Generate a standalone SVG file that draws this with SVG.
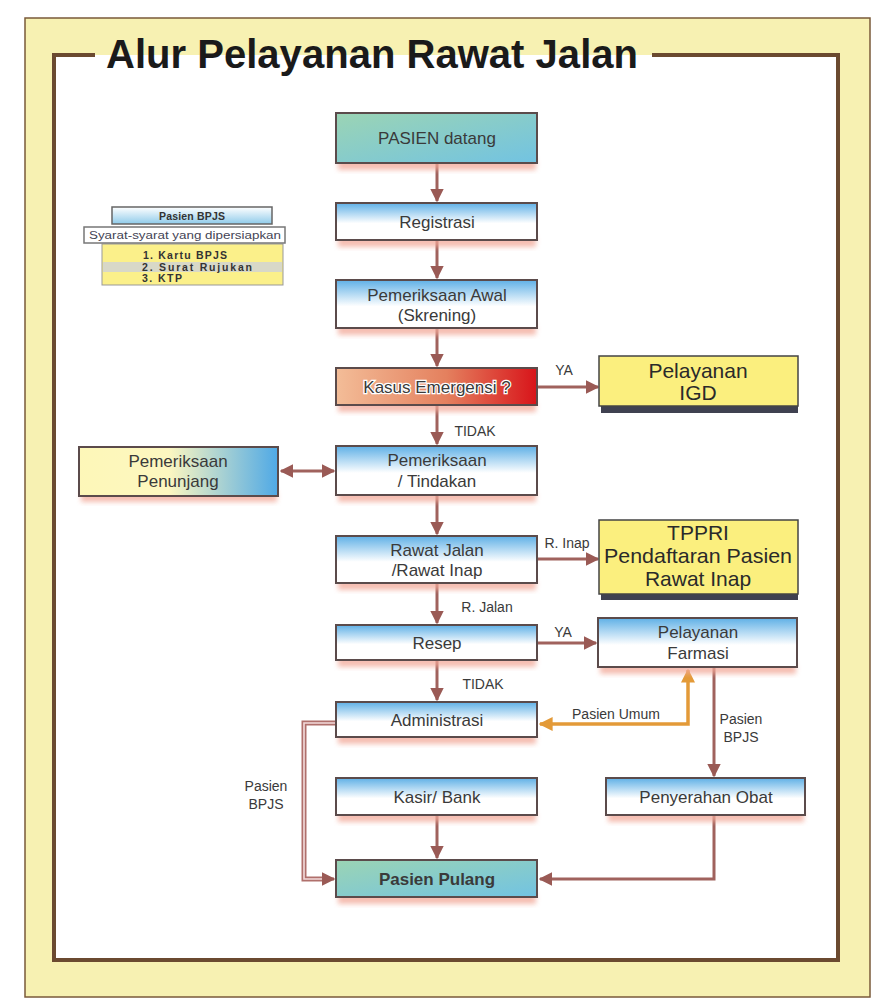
<svg xmlns="http://www.w3.org/2000/svg" width="895" height="1004" viewBox="0 0 895 1004">
<defs>
<linearGradient id="gBlue" x1="0" y1="0" x2="0" y2="1"><stop offset="0" stop-color="#5fb0e6"/><stop offset="0.55" stop-color="#ffffff"/><stop offset="1" stop-color="#ffffff"/></linearGradient>
<linearGradient id="gTeal" x1="0" y1="0" x2="1" y2="1"><stop offset="0" stop-color="#9bd4b4"/><stop offset="1" stop-color="#72c3e2"/></linearGradient>
<linearGradient id="gPen" x1="0" y1="0" x2="1" y2="0"><stop offset="0" stop-color="#fdf7b8"/><stop offset="0.45" stop-color="#fdf7c0"/><stop offset="1" stop-color="#4fa9e6"/></linearGradient>
<linearGradient id="gEmg" x1="0" y1="0" x2="1" y2="0"><stop offset="0" stop-color="#f3bd98"/><stop offset="0.55" stop-color="#e4805e"/><stop offset="1" stop-color="#d8141a"/></linearGradient>
<linearGradient id="gSmall" x1="0" y1="0" x2="0" y2="1"><stop offset="0" stop-color="#ffffff"/><stop offset="1" stop-color="#8fcbea"/></linearGradient>
<filter id="blur" x="-10%" y="-30%" width="120%" height="160%"><feGaussianBlur stdDeviation="2.5"/></filter>
<marker id="ah" viewBox="0 0 10 10" refX="9" refY="5" markerWidth="4.5" markerHeight="4.5" orient="auto-start-reverse"><path d="M0,0 L10,5 L0,10 Z" fill="#9a5a55"/></marker>
<marker id="ahO" viewBox="0 0 10 10" refX="9" refY="5" markerWidth="4" markerHeight="4" orient="auto-start-reverse"><path d="M0,0 L10,5 L0,10 Z" fill="#e39a38"/></marker>
</defs>
<style>
.box{stroke:#5b4b4b;stroke-width:2}
.sh{fill:#f2a898;opacity:0.75;filter:url(#blur)}
.t{font-family:"Liberation Sans",Arial,sans-serif;font-size:17px;fill:#3a3a3a;text-anchor:middle}
.ty{font-family:"Liberation Sans",Arial,sans-serif;font-size:21px;fill:#2a2a2a;text-anchor:middle}
.lb{font-family:"Liberation Sans",Arial,sans-serif;font-size:14px;fill:#3a3a3a;text-anchor:middle}
.c{fill:none;stroke:#a0625d;stroke-width:3}
.sm{font-family:"Liberation Sans",Arial,sans-serif;font-size:10.5px;fill:#333;font-weight:bold}
</style>
<rect width="895" height="1004" fill="#ffffff"/>
<rect x="25" y="18" width="845" height="979" fill="#f7f1b2" stroke="#7a5a3a" stroke-width="1.5"/>
<rect x="54" y="55" width="784" height="905" fill="#ffffff"/>
<path d="M95,55 L54,55 L54,960 L838,960 L838,55 L652,55" fill="none" stroke="#6b4a30" stroke-width="4"/>
<text x="372" y="68" font-family="Liberation Sans,Arial,sans-serif" font-size="40" font-weight="bold" fill="#1a1a1a" text-anchor="middle" textLength="532" lengthAdjust="spacingAndGlyphs">Alur Pelayanan Rawat Jalan</text>

<g id="legend">
<rect x="112" y="207" width="160" height="17" fill="url(#gSmall)" stroke="#666" stroke-width="1.5"/>
<text class="sm" x="192" y="219.5" text-anchor="middle" textLength="66" lengthAdjust="spacing">Pasien BPJS</text>
<rect x="102" y="244" width="181" height="41" fill="#fbf08a" stroke="#999" stroke-width="1"/>
<rect x="103" y="262" width="179" height="10" fill="#d8d8c8"/>
<rect x="84" y="227" width="201" height="16" fill="#ffffff" stroke="#777" stroke-width="1.5"/>
<text x="185" y="238.5" font-family="Liberation Sans,Arial,sans-serif" font-size="10" fill="#445" text-anchor="middle" textLength="192" lengthAdjust="spacingAndGlyphs">Syarat-syarat yang dipersiapkan</text>
<text class="sm" x="143" y="259" textLength="84" lengthAdjust="spacing">1. Kartu BPJS</text>
<text class="sm" x="142" y="270.5" textLength="110" lengthAdjust="spacing">2. Surat Rujukan</text>
<text class="sm" x="142" y="282" textLength="40" lengthAdjust="spacing">3. KTP</text>
</g>

<g id="connectors">
<line class="c" x1="437" y1="164" x2="437" y2="201" marker-end="url(#ah)"/>
<line class="c" x1="437" y1="241" x2="437" y2="278" marker-end="url(#ah)"/>
<line class="c" x1="437" y1="329" x2="437" y2="366" marker-end="url(#ah)"/>
<line class="c" x1="538" y1="387" x2="598" y2="387" marker-end="url(#ah)"/>
<text class="lb" x="564" y="375">YA</text>
<line class="c" x1="437" y1="406" x2="437" y2="444" marker-end="url(#ah)"/>
<text class="lb" x="475" y="436">TIDAK</text>
<line class="c" x1="281" y1="471" x2="334" y2="471" marker-start="url(#ah)" marker-end="url(#ah)"/>
<line class="c" x1="437" y1="496" x2="437" y2="534" marker-end="url(#ah)"/>
<line class="c" x1="538" y1="559" x2="598" y2="559" marker-end="url(#ah)"/>
<text class="lb" x="567" y="548">R. Inap</text>
<line class="c" x1="437" y1="584" x2="437" y2="623" marker-end="url(#ah)"/>
<text class="lb" x="487" y="612">R. Jalan</text>
<line class="c" x1="538" y1="643" x2="596" y2="643" marker-end="url(#ah)"/>
<text class="lb" x="563" y="637">YA</text>
<line class="c" x1="437" y1="661" x2="437" y2="700" marker-end="url(#ah)"/>
<text class="lb" x="483" y="689">TIDAK</text>
<path d="M540,724 L688,724 L688,670" fill="none" stroke="#e39a38" stroke-width="3.5" marker-start="url(#ahO)" marker-end="url(#ahO)"/>
<text class="lb" x="616" y="719">Pasien Umum</text>
<line class="c" x1="714" y1="668" x2="714" y2="776" marker-end="url(#ah)"/>
<text class="lb" x="741" y="724">Pasien</text>
<text class="lb" x="741" y="742">BPJS</text>
<path d="M336,723 L304,723 L304,879 L326,879" fill="none" stroke="#b0706c" stroke-width="5"/>
<path d="M336,723 L304,723 L304,879 L326,879" fill="none" stroke="#f3dcdc" stroke-width="1.6"/>
<line x1="324" y1="879" x2="334" y2="879" stroke="#a0625d" stroke-width="3" marker-end="url(#ah)"/>
<text class="lb" x="266" y="791">Pasien</text>
<text class="lb" x="266" y="809">BPJS</text>
<line class="c" x1="437" y1="816" x2="437" y2="858" marker-end="url(#ah)"/>
<path class="c" d="M714,816 L714,879 L540,879" marker-end="url(#ah)"/>
</g>

<g id="pasien-datang">
<rect class="sh" x="338" y="158" width="198" height="12"/>
<rect class="box" x="336" y="113" width="201" height="50" fill="url(#gTeal)"/>
<text class="t" x="437" y="144" font-size="16.5">PASIEN datang</text>
</g>
<g id="registrasi">
<rect class="sh" x="338" y="236" width="198" height="11"/>
<rect class="box" x="336" y="203" width="201" height="37" fill="url(#gBlue)"/>
<text class="t" x="437" y="228">Registrasi</text>
</g>
<g id="pemeriksaan-awal">
<rect class="sh" x="338" y="324" width="198" height="11"/>
<rect class="box" x="336" y="280" width="201" height="48" fill="url(#gBlue)"/>
<text class="t" x="437" y="301" font-size="19">Pemeriksaan Awal</text>
<text class="t" x="437" y="321" font-size="19">(Skrening)</text>
</g>
<g id="kasus-emergensi">
<rect class="sh" x="338" y="401" width="198" height="11"/>
<rect class="box" x="336" y="368" width="201" height="37" fill="url(#gEmg)"/>
<text class="t" x="437" y="393" stroke="#ffffff" stroke-width="2.5" paint-order="stroke" font-size="20">Kasus Emergensi ?</text>
</g>
<g id="pelayanan-igd">
<rect x="601" y="361" width="197" height="52" fill="#3f4150"/>
<rect x="599" y="356" width="199" height="50" fill="#fbef7e" stroke="#444" stroke-width="1.5"/>
<text class="ty" x="698" y="378">Pelayanan</text>
<text class="ty" x="698" y="400">IGD</text>
</g>
<g id="pemeriksaan-penunjang">
<rect class="sh" x="81" y="491" width="196" height="11"/>
<rect class="box" x="79" y="447" width="199" height="49" fill="url(#gPen)"/>
<text class="t" x="178" y="467">Pemeriksaan</text>
<text class="t" x="178" y="487">Penunjang</text>
</g>
<g id="pemeriksaan-tindakan">
<rect class="sh" x="338" y="491" width="198" height="11"/>
<rect class="box" x="336" y="446" width="201" height="49" fill="url(#gBlue)"/>
<text class="t" x="437" y="466">Pemeriksaan</text>
<text class="t" x="437" y="487">/ Tindakan</text>
</g>
<g id="rawat-jalan-inap">
<rect class="sh" x="338" y="579" width="198" height="11"/>
<rect class="box" x="336" y="536" width="201" height="47" fill="url(#gBlue)"/>
<text class="t" x="437" y="556">Rawat Jalan</text>
<text class="t" x="437" y="576">/Rawat Inap</text>
</g>
<g id="tppri">
<rect x="601" y="525" width="197" height="75" fill="#3f4150"/>
<rect x="599" y="520" width="199" height="74" fill="#fbef7e" stroke="#444" stroke-width="1.5"/>
<text class="ty" x="698" y="540">TPPRI</text>
<text class="ty" x="698" y="563" textLength="188" lengthAdjust="spacingAndGlyphs">Pendaftaran Pasien</text>
<text class="ty" x="698" y="586">Rawat Inap</text>
</g>
<g id="resep">
<rect class="sh" x="338" y="656" width="198" height="11"/>
<rect class="box" x="336" y="625" width="201" height="35" fill="url(#gBlue)"/>
<text class="t" x="437" y="649" font-size="18">Resep</text>
</g>
<g id="pelayanan-farmasi">
<rect class="sh" x="600" y="663" width="196" height="11"/>
<rect class="box" x="598" y="618" width="199" height="49" fill="url(#gBlue)"/>
<text class="t" x="698" y="638">Pelayanan</text>
<text class="t" x="698" y="659">Farmasi</text>
</g>
<g id="administrasi">
<rect class="sh" x="338" y="733" width="198" height="11"/>
<rect class="box" x="336" y="702" width="201" height="35" fill="url(#gBlue)"/>
<text class="t" x="437" y="726" font-size="19">Administrasi</text>
</g>
<g id="kasir-bank">
<rect class="sh" x="338" y="811" width="198" height="11"/>
<rect class="box" x="336" y="778" width="201" height="37" fill="url(#gBlue)"/>
<text class="t" x="437" y="803" font-size="19">Kasir/ Bank</text>
</g>
<g id="penyerahan-obat">
<rect class="sh" x="608" y="811" width="196" height="11"/>
<rect class="box" x="606" y="778" width="199" height="37" fill="url(#gBlue)"/>
<text class="t" x="706" y="803" font-size="18">Penyerahan Obat</text>
</g>
<g id="pasien-pulang">
<rect class="sh" x="338" y="893" width="198" height="11"/>
<rect class="box" x="336" y="860" width="201" height="37" fill="url(#gTeal)"/>
<text class="t" x="437" y="885" font-weight="bold" font-size="18.5" fill="#222">Pasien Pulang</text>
</g>
</svg>
